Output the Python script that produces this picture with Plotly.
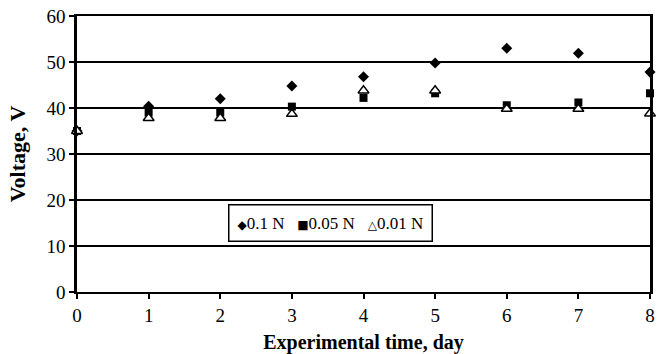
import plotly.graph_objects as go

days = [0, 1, 2, 3, 4, 5, 6, 7, 8]
v_01N = [35, 40.4, 42, 44.8, 46.8, 49.8, 53, 51.9, 47.8]
v_005N = [35, 39, 39, 40.3, 42.2, 43.2, 40.6, 41.2, 43.2]
v_001N = [35, 37.8, 37.8, 38.7, 43.8, 43.8, 39.8, 39.8, 38.8]
series_names = ["0.1 N", "0.05 N", "0.01 N"]
legend_glyphs = ["◆", "■", "△"]

font_family = "Liberation Serif, Times New Roman, serif"

markers = [
    dict(symbol="diamond", size=8.5, color="black"),
    dict(symbol="square", size=8, color="black"),
    dict(symbol="triangle-up", size=9.5, color="white", line=dict(color="black", width=1.5)),
]

fig = go.Figure()
for name, vals, mk in zip(series_names, [v_01N, v_005N, v_001N], markers):
    fig.add_trace(go.Scatter(x=days, y=vals, mode="markers", name=name, marker=mk,
                             cliponaxis=False, showlegend=False))

legend_text = "&nbsp;&nbsp;&nbsp;".join(
    f"<span style='font-family:DejaVu Sans;font-size:12px'>{g}</span>{n}"
    for g, n in zip(legend_glyphs, series_names)
)
fig.add_annotation(xref="paper", yref="paper", x=0.443, y=0.25,
                   xanchor="center", yanchor="middle", showarrow=False,
                   text=legend_text, font=dict(family=font_family, size=17, color="black"),
                   bordercolor="black", borderwidth=1.5, borderpad=8, bgcolor="white")

fig.update_layout(
    width=664, height=354,
    margin=dict(l=77, r=14, t=16, b=62),
    paper_bgcolor="white", plot_bgcolor="white",
    font=dict(family=font_family, size=19, color="black"),
    showlegend=False,
)
fig.update_xaxes(range=[0, 8], dtick=1, tick0=0, showgrid=False, zeroline=False,
                 showline=True, linecolor="black", linewidth=2, mirror=True,
                 ticks="outside", ticklen=5, tickwidth=1.5, tickcolor="black",
                 automargin=False,
                 title=dict(text="<b>Experimental time, day</b>", font=dict(size=20)))
fig.update_yaxes(range=[0, 60], dtick=10, tick0=0, showgrid=True, gridcolor="black",
                 gridwidth=2, zeroline=False,
                 showline=True, linecolor="black", linewidth=2.5, mirror=True,
                 ticks="outside", ticklen=5, tickwidth=1.5, tickcolor="black",
                 automargin=False,
                 title=dict(text="<b>Voltage, V</b>", font=dict(size=22)))

fig.write_html("out.html")
